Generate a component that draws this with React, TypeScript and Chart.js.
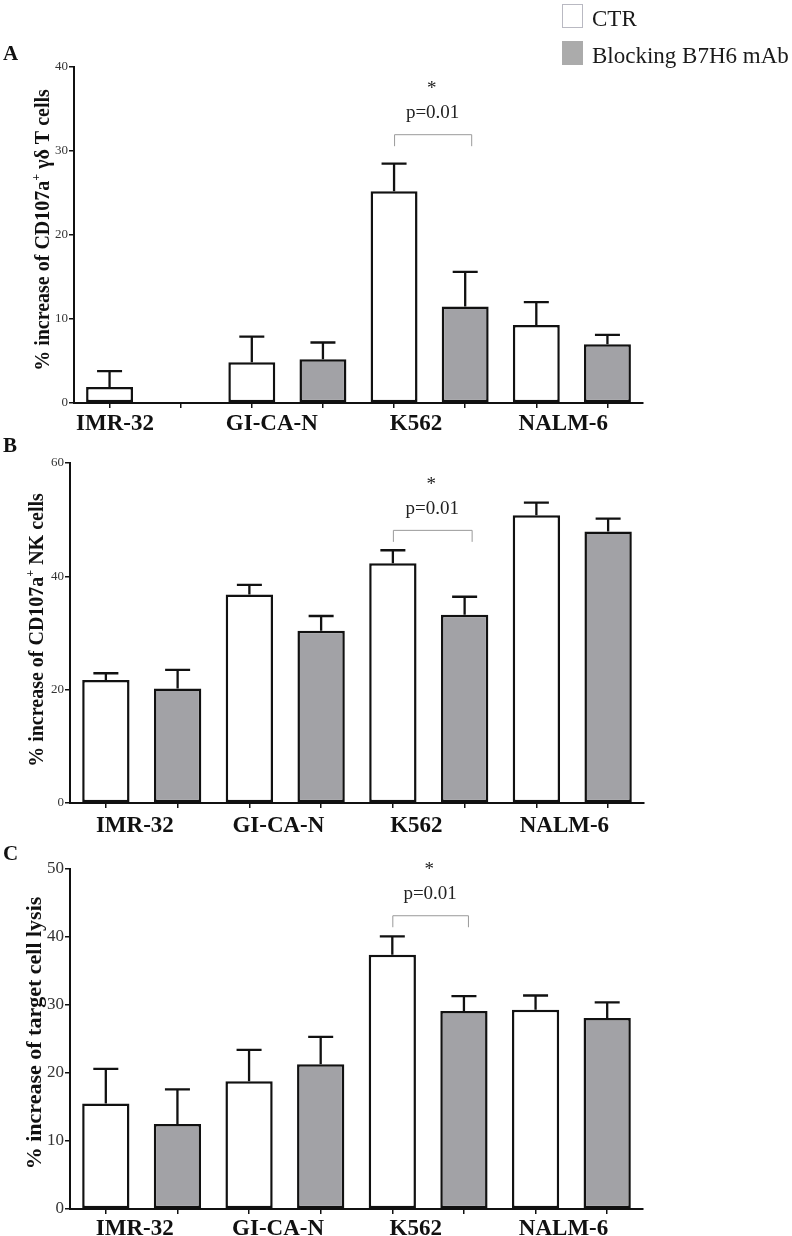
import { useEffect, useRef } from "react";
import { Chart, registerables } from "chart.js";

Chart.register(...registerables);

const SERIF = '"Liberation Serif", "Times New Roman", Times, serif';

// ---------- DATA ----------
const categories = ["IMR-32", "GI-CA-N", "K562", "NALM-6"];
const seriesNames = ["CTR", "Blocking B7H6 mAb"];

// Panel A: % increase of CD107a+ γδ T cells
const ctrA = [1.9, 4.85, 25.2, 9.3];
const ctrErrA = [1.9, 3.05, 3.3, 2.7];
const blockA = [null, 5.2, 11.5, 7.0];
const blockErrA = [null, 2.0, 4.1, 1.1];
const yTicksA = { max: 40, step: 10 };
const sigA = { value: 32.0, star: "*", p: "p=0.01", pair: 2 };

// Panel B: % increase of CD107a+ NK cells
const ctrB = [21.7, 36.8, 42.3, 50.8];
const ctrErrB = [1.2, 1.7, 2.3, 2.2];
const blockB = [20.2, 30.4, 33.2, 47.9];
const blockErrB = [3.3, 2.6, 3.2, 2.3];
const yTicksB = { max: 60, step: 20 };
const sigB = { value: 48.2, star: "*", p: "p=0.01", pair: 2 };

// Panel C: % increase of target cell lysis
const ctrC = [15.5, 18.8, 37.4, 29.3];
const ctrErrC = [5.1, 4.6, 2.7, 2.1];
const blockC = [12.5, 21.3, 29.1, 28.1];
const blockErrC = [5.1, 4.0, 2.2, 2.3];
const yTicksC = { max: 50, step: 10 };
const sigC = { value: 43.2, star: "*", p: "p=0.01", pair: 2 };

// ---------- STYLE / LAYOUT ----------
const BAR_BORDER = "#111111";
const CTR_FILL = "#ffffff";
const BLOCK_FILL = "#a2a2a6";
const LEGEND_GRAY = "#ababab";

type Seg = { t: string; sup?: boolean };

const panels = [
  {
    letter: "A",
    top: 0,
    height: 432,
    chartTop: 67,
    chartBottom: 403,
    chartLeft: 74,
    chartRight: 643,
    tickSize: 13,
    title: [{ t: "% increase of CD107a" }, { t: "+", sup: true }, { t: " γδ T cells" }] as Seg[],
    titleSize: 20,
    titleX: 49,
    titleY: 230,
    labelOffsets: [5.5, 20, 22, 27],
    labelDy: 27,
    letterY: 60,
    legend: true,
    ctr: ctrA, ctrErr: ctrErrA, block: blockA, blockErr: blockErrA,
    yTicks: yTicksA, sig: sigA, sigShift: 6,
  },
  {
    letter: "B",
    top: 432,
    height: 408,
    chartTop: 463,
    chartBottom: 803,
    chartLeft: 70,
    chartRight: 644,
    tickSize: 13,
    title: [{ t: "% increase of CD107a" }, { t: "+", sup: true }, { t: " NK cells" }] as Seg[],
    titleSize: 20,
    titleX: 43,
    titleY: 630,
    labelOffsets: [29, 29, 23.5, 28],
    labelDy: 29,
    letterY: 452,
    legend: false,
    ctr: ctrB, ctrErr: ctrErrB, block: blockB, blockErr: blockErrB,
    yTicks: yTicksB, sig: sigB, sigShift: 7,
  },
  {
    letter: "C",
    top: 840,
    height: 396,
    chartTop: 869,
    chartBottom: 1209,
    chartLeft: 70,
    chartRight: 643,
    tickSize: 17,
    title: [{ t: "% increase of target cell lysis" }] as Seg[],
    titleSize: 22,
    titleX: 41,
    titleY: 1033,
    labelOffsets: [29, 29, 23.5, 28],
    labelDy: 26,
    letterY: 860,
    legend: false,
    ctr: ctrC, ctrErr: ctrErrC, block: blockC, blockErr: blockErrC,
    yTicks: yTicksC, sig: sigC, sigShift: 4,
  },
];

function slots(vals: (number | null)[], which: number) {
  const out: (number | null)[] = [];
  vals.forEach((v) => {
    if (which === 0) { out.push(v); out.push(null); }
    else { out.push(null); out.push(v); }
  });
  return out;
}

function drawYTitle(ctx: CanvasRenderingContext2D, segs: Seg[], size: number, bx: number, cy: number) {
  ctx.save();
  ctx.translate(bx, cy);
  ctx.rotate(-Math.PI / 2);
  const mainF = `bold ${size}px ${SERIF}`;
  const supF = `bold ${Math.round(size * 0.62)}px ${SERIF}`;
  let total = 0;
  segs.forEach((s) => {
    ctx.font = s.sup ? supF : mainF;
    total += ctx.measureText(s.t).width;
  });
  let x = -total / 2;
  ctx.fillStyle = "#111";
  ctx.textAlign = "left";
  ctx.textBaseline = "alphabetic";
  segs.forEach((s) => {
    ctx.font = s.sup ? supF : mainF;
    ctx.fillText(s.t, x, s.sup ? -size * 0.45 : 0);
    x += ctx.measureText(s.t).width;
  });
  ctx.restore();
}

function Panel({ cfg }: { cfg: (typeof panels)[number] }) {
  const ref = useRef<HTMLCanvasElement | null>(null);

  useEffect(() => {
    const canvas = ref.current;
    if (!canvas) return;
    const H = cfg.height;
    const top = cfg.top;
    const slotLabels: string[] = [];
    categories.forEach((c) => { slotLabels.push(c + " " + seriesNames[0]); slotLabels.push(c + " " + seriesNames[1]); });

    const overlay = {
      id: "overlay" + cfg.letter,
      afterDatasetsDraw(chart: any) {
        const ctx: CanvasRenderingContext2D = chart.ctx;
        const y = chart.scales.y;
        chart.data.datasets.forEach((ds: any, di: number) => {
          const meta = chart.getDatasetMeta(di);
          meta.data.forEach((el: any, i: number) => {
            const v = ds.data[i];
            const e = ds.errors[i];
            if (v == null || e == null) return;
            const px = el.x;
            const t = y.getPixelForValue(v);
            const et = y.getPixelForValue(v + e);
            ctx.save();
            ctx.strokeStyle = BAR_BORDER;
            ctx.lineWidth = 2.3;
            ctx.beginPath();
            ctx.moveTo(px, t);
            ctx.lineTo(px, et);
            ctx.moveTo(px - 12.5, et);
            ctx.lineTo(px + 12.5, et);
            ctx.stroke();
            ctx.restore();
          });
        });
      },
      afterDraw(chart: any) {
        const ctx: CanvasRenderingContext2D = chart.ctx;
        const xs = chart.scales.x;
        const ys = chart.scales.y;
        const area = chart.chartArea;
        ctx.save();
        // category labels
        ctx.font = `bold 23px ${SERIF}`;
        ctx.fillStyle = "#111";
        ctx.textAlign = "center";
        ctx.textBaseline = "alphabetic";
        categories.forEach((c, k) => {
          const px = xs.getPixelForValue(2 * k) + cfg.labelOffsets[k];
          ctx.fillText(c, px, area.bottom + cfg.labelDy);
        });
        // panel letter
        ctx.font = `bold 21px ${SERIF}`;
        ctx.textAlign = "left";
        ctx.fillText(cfg.letter, 3, cfg.letterY - top);
        // y title
        drawYTitle(ctx, cfg.title, cfg.titleSize, cfg.titleX, cfg.titleY - top);
        // significance bracket
        const s = cfg.sig;
        const lx = xs.getPixelForValue(2 * s.pair);
        const rx = xs.getPixelForValue(2 * s.pair + 1) + cfg.sigShift;
        const by = ys.getPixelForValue(s.value);
        ctx.strokeStyle = "#9a9a9a";
        ctx.lineWidth = 1;
        ctx.beginPath();
        ctx.moveTo(lx + 0.5, by + 12);
        ctx.lineTo(lx + 0.5, by + 0.5);
        ctx.lineTo(rx + 0.5, by + 0.5);
        ctx.lineTo(rx + 0.5, by + 12);
        ctx.stroke();
        const cx = (lx + rx) / 2;
        ctx.fillStyle = "#222";
        ctx.textAlign = "center";
        ctx.font = `19px ${SERIF}`;
        ctx.fillText(s.p, cx, by - 16);
        ctx.fillText(s.star, cx - 1, by - 40);
        // legend
        if (cfg.legend) {
          const fills = [CTR_FILL, LEGEND_GRAY];
          chart.data.datasets.forEach((ds: any, i: number) => {
            const bx = 562;
            const byy = 4 + i * 37;
            ctx.fillStyle = fills[i];
            ctx.fillRect(bx, byy, 21, 24);
            ctx.strokeStyle = i === 0 ? "#b9b9c2" : LEGEND_GRAY;
            ctx.lineWidth = 1;
            ctx.strokeRect(bx + 0.5, byy + 0.5, 20, 23);
            ctx.fillStyle = "#1a1a1a";
            ctx.textAlign = "left";
            ctx.font = `23px ${SERIF}`;
            ctx.fillText(ds.label, 592, byy + 21.5);
          });
        }
        ctx.restore();
      },
    };

    const chart = new Chart(canvas, {
      type: "bar",
      data: {
        labels: slotLabels,
        datasets: [
          {
            label: seriesNames[0],
            data: slots(cfg.ctr, 0),
            errors: slots(cfg.ctrErr, 0),
            backgroundColor: CTR_FILL,
            borderColor: BAR_BORDER,
            borderWidth: 2.5,
            borderSkipped: false,
            skipNull: true,
            barPercentage: 0.66,
            categoryPercentage: 1,
          } as any,
          {
            label: seriesNames[1],
            data: slots(cfg.block, 1),
            errors: slots(cfg.blockErr, 1),
            backgroundColor: BLOCK_FILL,
            borderColor: BAR_BORDER,
            borderWidth: 2.5,
            borderSkipped: false,
            skipNull: true,
            barPercentage: 0.66,
            categoryPercentage: 1,
          } as any,
        ],
      },
      options: {
        responsive: false,
        maintainAspectRatio: false,
        animation: false,
        events: [],
        layout: {
          padding: {
            top: cfg.chartTop - top,
            bottom: 0,
            left: 0,
            right: 792 - cfg.chartRight,
          },
        },
        plugins: {
          legend: { display: false },
          tooltip: { enabled: false },
          title: { display: false },
        },
        scales: {
          x: {
            type: "category",
            offset: true,
            ticks: { display: false },
            grid: {
              display: true,
              offset: false,
              drawOnChartArea: false,
              drawTicks: true,
              tickLength: 5,
              color: "#111",
              lineWidth: 1.5,
            },
            border: { display: true, color: "#111", width: 2 },
            afterFit: (s: any) => { s.height = H - (cfg.chartBottom - top); },
          },
          y: {
            min: 0,
            max: cfg.yTicks.max,
            ticks: {
              stepSize: cfg.yTicks.step,
              color: "#333",
              padding: 1,
              font: { family: SERIF, size: cfg.tickSize },
            },
            grid: {
              display: true,
              drawOnChartArea: false,
              drawTicks: true,
              tickLength: 5,
              color: "#111",
              lineWidth: 1.5,
            },
            border: { display: true, color: "#111", width: 2 },
            afterFit: (s: any) => { s.width = cfg.chartLeft; },
          },
        },
      } as any,
      plugins: [overlay as any],
    });
    return () => chart.destroy();
  }, [cfg]);

  return (
    <canvas
      ref={ref}
      width={792}
      height={cfg.height}
      style={{ position: "absolute", left: 0, top: cfg.top, width: 792, height: cfg.height, display: "block" }}
    />
  );
}

export default function App() {
  return (
    <div style={{ position: "absolute", left: 0, top: 0, width: 792, height: 1236, background: "#fff" }}>
      {panels.map((p) => (
        <Panel key={p.letter} cfg={p} />
      ))}
    </div>
  );
}
